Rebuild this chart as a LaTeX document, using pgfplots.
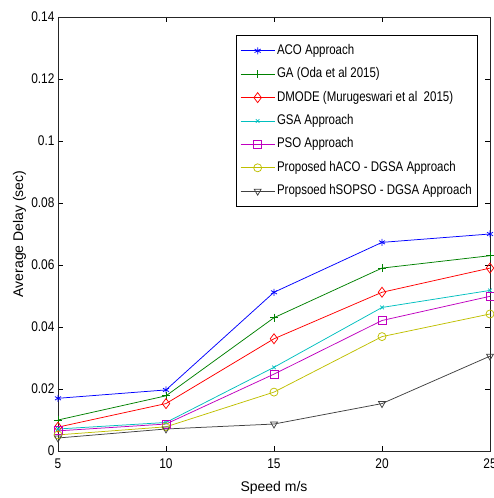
\documentclass[border=0pt]{standalone}
\usepackage{pgfplots}
\pgfplotsset{compat=1.18}
\usetikzlibrary{calc}
\usepackage{fontspec}
\setmainfont[FakeStretch=0.85]{Liberation Sans}
\newfontfamily\labfont{Liberation Sans}
\newfontfamily\legfont[FakeStretch=0.82]{Liberation Sans}
\definecolor{mblue}{rgb}{0,0,1}
\definecolor{mgreen}{rgb}{0,0.5,0}
\definecolor{mred}{rgb}{1,0,0}
\definecolor{mcyan}{rgb}{0,0.75,0.75}
\definecolor{mmag}{rgb}{0.75,0,0.75}
\definecolor{myel}{rgb}{0.75,0.75,0}
\definecolor{mgray}{rgb}{0.25,0.25,0.25}
\begin{document}
\begin{tikzpicture}
\begin{axis}[
  name=ax,
  scale only axis,
  width=432bp, height=434bp,
  xmin=5, xmax=25, ymin=0, ymax=0.14,
  xtick={5,10,15,20,25},
  ytick={0,0.02,0.04,0.06,0.08,0.1,0.12,0.14},
  tick align=inside,
  major tick length=5bp,
  tick style={black, line width=0.5bp},
  axis line style={black!85, line width=0.6bp},
  /pgf/number format/assume math mode=true,
  /pgf/number format/fixed,
  /pgf/number format/precision=2,
  scaled y ticks=false,
  tick label style={font=\fontsize{14bp}{16bp}\selectfont},
  xticklabel style={yshift=-4bp},
  xlabel={Speed m/s},
  ylabel={Average Delay (sec)},
  label style={font=\labfont\fontsize{14bp}{16bp}\selectfont},
  xlabel style={at={(axis description cs:0.5,-0.085)}, anchor=center},
  ylabel style={at={(axis description cs:-0.089,0.5)}, anchor=center},
  every axis plot/.append style={line width=0.75bp},
  legend cell align=left,
  legend style={at={(0.412,0.9585)}, anchor=north west,
    font=\legfont\fontsize{14bp}{16bp}\selectfont,
    draw=black, line width=0.6bp,
    nodes={inner sep=2bp, text height=10bp, text depth=3bp},
    row sep=6.4bp, inner xsep=4bp, inner ysep=7bp},
  legend image code/.code={\draw[mark repeat=2,mark phase=2,#1] plot coordinates {(0bp,0bp)(17bp,0bp)(34bp,0bp)};},
]
\addplot[color=mblue, mark=asterisk, mark size=3.5bp] coordinates {(5,0.0170)(10,0.0197)(15,0.0512)(20,0.0673)(25,0.0700)};
\addlegendentry{ACO Approach}
\addplot[color=mgreen, mark=+, mark size=4bp] coordinates {(5,0.0100)(10,0.0178)(15,0.0430)(20,0.0590)(25,0.0630)};
\addlegendentry{GA (Oda et al 2015)}
\addplot[color=mred, mark=diamond, mark size=5bp] coordinates {(5,0.0077)(10,0.0153)(15,0.0362)(20,0.0512)(25,0.0590)};
\addlegendentry{DMODE (Murugeswari et al\ \ 2015)}
\addplot[color=mcyan, mark=x, mark size=2.5bp] coordinates {(5,0.0071)(10,0.0092)(15,0.0270)(20,0.0463)(25,0.0518)};
\addlegendentry{GSA Approach}
\addplot[color=mmag, mark=square, mark size=4bp] coordinates {(5,0.0065)(10,0.0087)(15,0.0248)(20,0.0421)(25,0.0499)};
\addlegendentry{PSO Approach}
\addplot[color=myel, mark=o, mark size=4bp] coordinates {(5,0.0052)(10,0.0078)(15,0.0190)(20,0.0369)(25,0.0442)};
\addlegendentry{Proposed hACO - DGSA Approach}
\addplot[color=mgray, mark=triangle, mark options={rotate=180}, mark size=4bp] coordinates {(5,0.0042)(10,0.0071)(15,0.0087)(20,0.0153)(25,0.0306)};
\addlegendentry{Propsoed hSOPSO - DGSA Approach}
\end{axis}
\pgfresetboundingbox
\path[use as bounding box] ($(ax.south west)+(-58bp,-47bp)$) rectangle ($(ax.north east)+(4bp,17bp)$);
\end{tikzpicture}
\end{document}
